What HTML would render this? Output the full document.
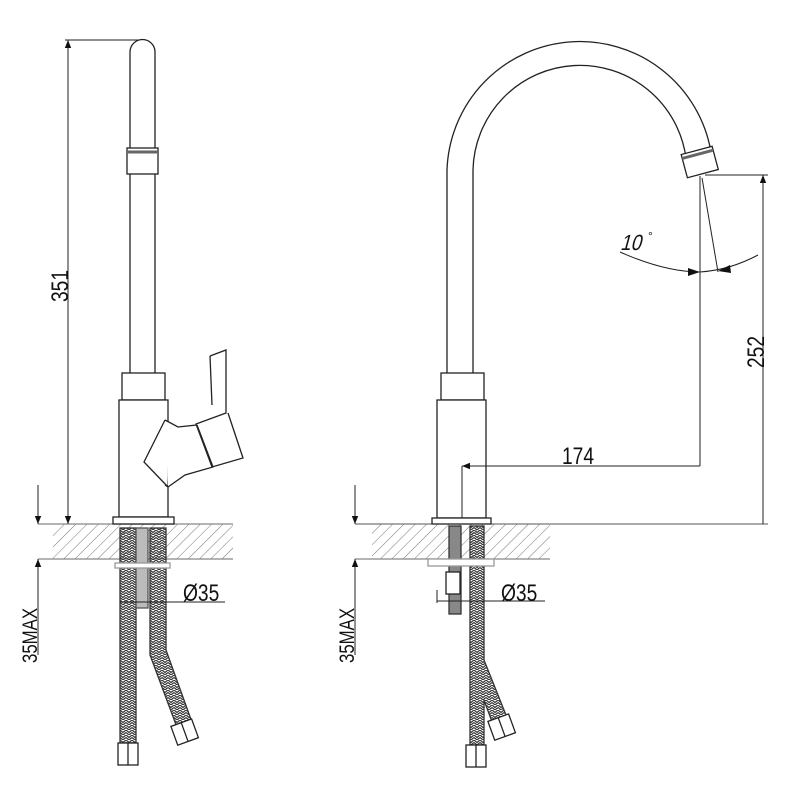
<!DOCTYPE html>
<html><head><meta charset="utf-8"><style>html,body{margin:0;padding:0;background:#fff}svg{display:block}</style></head>
<body>
<svg width="800" height="800" viewBox="0 0 800 800" xmlns="http://www.w3.org/2000/svg" font-family="Liberation Sans, sans-serif">
<defs>
<pattern id="hatch" width="8" height="8" patternUnits="userSpaceOnUse" patternTransform="rotate(45)">
<line x1="0" y1="0" x2="0" y2="8" stroke="#777" stroke-width="1"/>
</pattern>
<pattern id="braid" width="6" height="5" patternUnits="userSpaceOnUse">
<path d="M0,0 L3,2.5 L6,0 M0,2.5 L3,5 L6,2.5" fill="none" stroke="#333" stroke-width="1.2"/>
</pattern>
<marker id="ar" viewBox="0 0 10 10" refX="10" refY="5" markerWidth="10" markerHeight="8" orient="auto-start-reverse" markerUnits="userSpaceOnUse">
<path d="M0,1 L10,5 L0,9z" fill="#111"/>
</marker>
</defs>
<g fill="none" stroke="#222" stroke-width="1.3">
<!-- LEFT VIEW -->
<rect x="53" y="524" width="180" height="35" fill="url(#hatch)" stroke="none"/>
<line x1="38" y1="524" x2="233" y2="524" stroke="#888"/>
<line x1="38" y1="559" x2="233" y2="559" stroke="#888"/>
<path d="M130,375 V52 A12.5,12.5 0 0 1 155,52 V375"/>
<rect x="127" y="148" width="31" height="26" fill="#fff"/>
<line x1="127" y1="152" x2="158" y2="152" stroke-width="3" stroke="#666"/>
<rect x="122" y="373" width="43" height="27" fill="#fff"/>
<rect x="119" y="400" width="49" height="117" fill="#fff"/>
<rect x="113" y="517" width="61" height="7" fill="#fff"/>
<path d="M165,420 L178,427 L197,425 L213,467 L185,475 L168,487 L165,485 M165,420 L144,462 L168,487" fill="#fff"/>
<path d="M210,356 L226,350 L226,413 L196,424 L212,467 L243,458 L228,413" fill="#fff"/>
<path d="M210,356 L212,405"/>
<line x1="197" y1="425" x2="213" y2="467"/>
<!-- hoses left -->
<rect x="120" y="528" width="16" height="215" fill="url(#braid)" stroke="#333"/>
<path d="M150,528 H166 V650 L193,725 L178,730 L150,655 Z" fill="url(#braid)" stroke="#333"/>
<rect x="136" y="528" width="12" height="80" fill="#bbb" stroke="#555"/>
<rect x="115" y="563" width="55" height="5" fill="#fff" stroke="#999"/>
<rect x="118" y="743" width="20" height="22" fill="#fff"/>
<line x1="128" y1="743" x2="128" y2="765"/>
<g transform="rotate(-20 185 733)"><rect x="174" y="722" width="22" height="20" fill="#fff"/><line x1="185" y1="722" x2="185" y2="742"/></g>
<line x1="120" y1="602" x2="225" y2="602" stroke-width="1"/>
<!-- 351 dim -->
<line x1="65" y1="40" x2="140" y2="40" stroke-width="1"/>
<line x1="68" y1="40" x2="68" y2="524" stroke-width="1" marker-start="url(#ar)" marker-end="url(#ar)"/>
<!-- 35max left -->
<line x1="38" y1="485" x2="38" y2="524" stroke-width="1" marker-end="url(#ar)"/>
<line x1="38" y1="655" x2="38" y2="559" stroke-width="1" marker-end="url(#ar)"/>

<!-- RIGHT VIEW -->
<rect x="372" y="524" width="178" height="35" fill="url(#hatch)" stroke="none"/>
<line x1="355" y1="524" x2="768" y2="524" stroke="#555" stroke-width="1"/>
<line x1="355" y1="559" x2="550" y2="559" stroke="#888"/>
<path d="M447,373 V170 A133,133 0 0 1 711,152"/>
<path d="M473,373 V170 A107,107 0 0 1 686,158"/>
<g transform="rotate(-15 700 163)"><rect x="684" y="150" width="32" height="24" fill="#fff"/><line x1="684" y1="154" x2="716" y2="154" stroke-width="3" stroke="#666"/></g>
<rect x="441" y="373" width="43" height="27" fill="#fff"/>
<rect x="437" y="400" width="49" height="118" fill="#fff"/>
<rect x="432" y="518" width="59" height="6" fill="#fff"/>
<rect x="449" y="526" width="12" height="88" fill="#888" stroke="#333"/>
<rect x="446" y="572" width="14" height="22" fill="#fff"/>
<path d="M470,526 H484 V660 L510,725 L495,730 L484,700 V745 H470 Z" fill="url(#braid)" stroke="#333"/>
<rect x="428" y="559" width="66" height="7" fill="#fff" stroke="#999"/>
<rect x="466" y="745" width="20" height="22" fill="#fff"/>
<line x1="476" y1="745" x2="476" y2="767"/>
<g transform="rotate(-20 502 728)"><rect x="491" y="717" width="22" height="20" fill="#fff"/><line x1="502" y1="717" x2="502" y2="737"/></g>
<line x1="437" y1="601" x2="545" y2="601" stroke-width="1"/>
<line x1="437" y1="590" x2="437" y2="603" stroke-width="1"/>
<!-- 174 -->
<line x1="462" y1="466" x2="462" y2="518" stroke-width="1"/>
<line x1="700" y1="466" x2="462" y2="466" stroke-width="1" marker-end="url(#ar)"/>
<line x1="700" y1="466" x2="700" y2="176" stroke-width="1"/>
<!-- 252 -->
<line x1="705" y1="175" x2="768" y2="175" stroke-width="1"/>
<line x1="763" y1="524" x2="763" y2="175" stroke-width="1" marker-end="url(#ar)"/>
<!-- 10 deg -->
<line x1="702" y1="178" x2="718" y2="272" stroke-width="1"/>
<path d="M620,252 Q665,272 700,272 Q730,270 758,255" stroke-width="1"/>
<path d="M700,272 l-12,-4 l0,8z M718,271 l12,-6 l1,8z" fill="#111" stroke="none"/>
<!-- 35max right -->
<line x1="355" y1="485" x2="355" y2="524" stroke-width="1" marker-end="url(#ar)"/>
<line x1="355" y1="655" x2="355" y2="559" stroke-width="1" marker-end="url(#ar)"/>
</g>
<g fill="#111" font-size="24">
<text transform="translate(68,302) rotate(-90) scale(0.8,1)">351</text>
<text transform="translate(764,368) rotate(-90) scale(0.8,1)">252</text>
<text transform="translate(562,464) scale(0.8,1)">174</text>
<text transform="translate(620,250) skewX(-15) scale(0.85,1)" font-size="22">10</text><text x="648" y="240" font-size="12">°</text>
<text transform="translate(183,601) scale(0.8,1)">Ø35</text>
<text transform="translate(501,601) scale(0.8,1)">Ø35</text>
<text transform="translate(37,663) rotate(-90) scale(0.8,1)" font-size="21">35MAX</text>
<text transform="translate(354,663) rotate(-90) scale(0.8,1)" font-size="21">35MAX</text>
</g>
</svg>
</body></html>
